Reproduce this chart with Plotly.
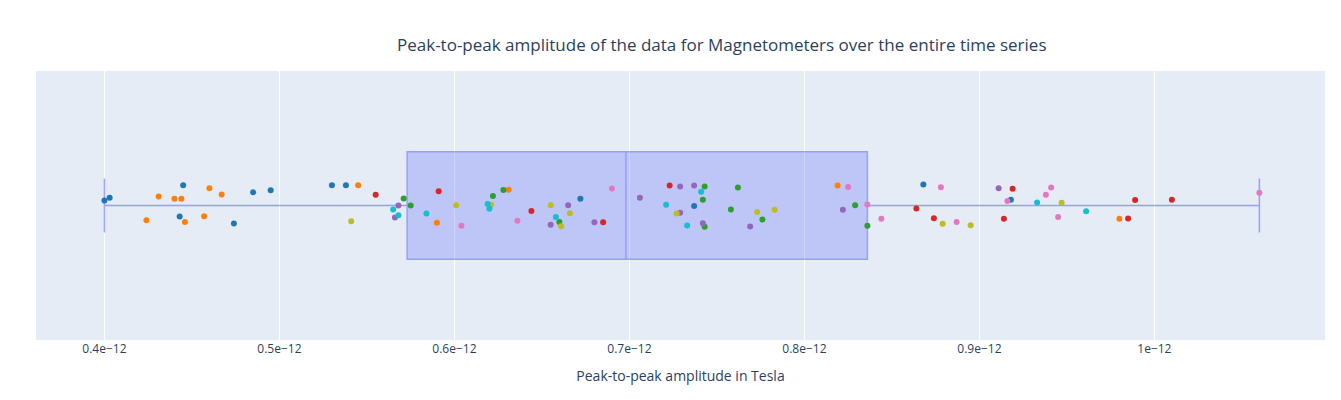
import plotly.graph_objects as go

# Peak-to-peak amplitudes (units of 1e-12 Tesla) and vertical jitter per colour group
scale = 1e-12

blue_x = [0.400, 0.403, 0.445, 0.443, 0.474, 0.485, 0.495, 0.530, 0.538, 0.672, 0.737, 0.868, 0.918]
blue_j = [0.019, 0.029, 0.075, -0.041, -0.067, 0.049, 0.057, 0.075, 0.075, 0.025, -0.002, 0.078, 0.021]

orange_x = [0.424, 0.431, 0.440, 0.444, 0.446, 0.457, 0.460, 0.467, 0.545, 0.590, 0.631, 0.819, 0.980]
orange_j = [-0.055, 0.033, 0.025, 0.025, -0.061, -0.040, 0.064, 0.041, 0.075, -0.064, 0.059, 0.074, -0.049]

green_x = [0.571, 0.575, 0.622, 0.628, 0.660, 0.743, 0.742, 0.743, 0.758, 0.762, 0.776, 0.829, 0.836]
green_j = [0.026, 0.000, 0.035, 0.058, -0.061, 0.071, 0.021, -0.079, -0.015, 0.067, -0.052, 0.001, -0.075]

red_x = [0.555, 0.591, 0.644, 0.685, 0.723, 0.864, 0.874, 0.914, 0.919, 0.985, 0.989, 1.010]
red_j = [0.040, 0.053, -0.020, -0.062, 0.074, -0.011, -0.047, -0.049, 0.062, -0.048, 0.020, 0.021]

purple_x = [0.568, 0.566, 0.665, 0.655, 0.680, 0.706, 0.729, 0.737, 0.729, 0.742, 0.769, 0.822, 0.911]
purple_j = [0.000, -0.045, 0.001, -0.072, -0.062, 0.029, 0.071, 0.074, -0.027, -0.066, -0.078, -0.016, 0.064]

pink_x = [0.604, 0.636, 0.690, 0.825, 0.836, 0.844, 0.878, 0.887, 0.916, 0.938, 0.941, 0.945, 1.060]
pink_j = [-0.075, -0.057, 0.063, 0.069, 0.004, -0.049, 0.068, -0.061, 0.017, 0.040, 0.067, -0.043, 0.047]

olive_x = [0.541, 0.601, 0.621, 0.655, 0.666, 0.661, 0.727, 0.773, 0.783, 0.879, 0.895, 0.947]
olive_j = [-0.059, 0.001, 0.003, 0.001, -0.029, -0.077, -0.030, -0.024, -0.016, -0.068, -0.073, 0.010]

cyan_x = [0.565, 0.568, 0.584, 0.619, 0.620, 0.658, 0.721, 0.741, 0.733, 0.933, 0.961]
cyan_j = [-0.015, -0.036, -0.030, 0.006, -0.012, -0.043, 0.003, 0.051, -0.074, 0.011, -0.021]

groups = [
    ("#1f77b4", blue_x, blue_j),
    ("#ff7f0e", orange_x, orange_j),
    ("#2ca02c", green_x, green_j),
    ("#d62728", red_x, red_j),
    ("#9467bd", purple_x, purple_j),
    ("#e377c2", pink_x, pink_j),
    ("#bcbd22", olive_x, olive_j),
    ("#17becf", cyan_x, cyan_j),
]

all_x = [v * scale for _, xs, _ in groups for v in xs]

fig = go.Figure()
fig.add_trace(go.Box(
    x=all_x, y0=0, orientation="h", width=0.4,
    boxpoints=False, line=dict(color="#636efa", width=1.5),
    fillcolor="rgba(99,110,250,0.5)", opacity=0.6,
    showlegend=False, hoverinfo="x",
))
for color, xs, js in groups:
    fig.add_trace(go.Scatter(
        x=[v * scale for v in xs], y=js, mode="markers",
        marker=dict(color=color, size=6), showlegend=False,
    ))

fig.update_layout(
    width=1341, height=400,
    margin=dict(l=36, r=16, t=71, b=60),
    title=dict(text="Peak-to-peak amplitude of the data for Magnetometers over the entire time series",
               x=0.532, xref="paper", xanchor="center", y=1 - 45 / 400, yanchor="middle",
               font=dict(size=17)),
    plot_bgcolor="#e5ecf6",
    paper_bgcolor="white",
    xaxis=dict(title=dict(text="Peak-to-peak amplitude in Tesla"),
               range=[0.3609e-12, 1.0975e-12], gridcolor="white", zeroline=False,
               exponentformat="e"),
    yaxis=dict(range=[-0.5, 0.5], showticklabels=False, showgrid=False, zeroline=False),
)

fig.write_html("out.html")
